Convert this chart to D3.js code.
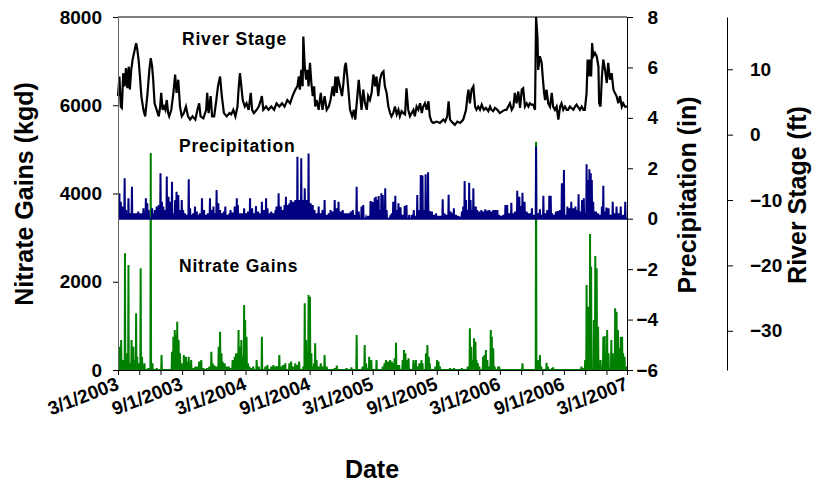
<!DOCTYPE html>
<html><head><meta charset="utf-8">
<script src="https://cdn.jsdelivr.net/npm/d3@7"></script>
<style>
body{margin:0;background:#fff}
svg{display:block}
text{font-family:Arial,"Liberation Sans",sans-serif;font-weight:bold;fill:#000}
</style>
</head><body>
<svg id="chart" width="814" height="482"></svg>
<script>
// ---------- data (day offsets counted from 3/1/2003) ----------
const startDate = "3/1/2003", endDate = "3/1/2007";
const xLabelDates = ["3/1/2003","9/1/2003","3/1/2004","9/1/2004","3/1/2005","9/1/2005","3/1/2006","9/1/2006","3/1/2007"];
const nitrateTicks = [0,2000,4000,6000,8000];
const precipTicks = [-6,-4,-2,0,2,4,6,8];
const stageTicks = [-30,-20,-10,0,10];

// River stage (ft): [day, value]
const riverStage = [[0,5.9],[4,8.9],[8,4.3],[11,4.1],[15,9.4],[19,7.4],[23,10.2],[27,7.1],[31,10.4],[34,6.9],[38,9.9],[42,11.5],[46,12.5],[52,14.0],[55,13.2],[59,11.5],[63,8.9],[67,5.9],[73,3.8],[78,2.8],[84,5.9],[90,9.9],[94,11.7],[98,10.4],[101,8.4],[105,4.8],[111,3.8],[117,2.8],[121,4.3],[124,6.4],[128,3.8],[132,4.3],[136,3.8],[140,5.3],[144,3.3],[147,2.8],[153,3.8],[159,6.4],[164,9.2],[168,6.4],[173,8.4],[178,4.3],[183,2.8],[189,3.3],[195,4.3],[201,2.8],[207,2.3],[214,2.8],[222,2.3],[228,3.8],[233,4.8],[237,2.8],[245,2.5],[253,3.8],[256,6.4],[260,3.3],[266,5.9],[270,2.8],[276,2.8],[281,4.8],[287,7.4],[293,8.9],[298,5.9],[304,3.3],[312,2.8],[320,3.3],[325,3.1],[331,3.8],[337,2.8],[343,4.3],[346,6.9],[350,9.4],[354,7.4],[358,5.3],[364,4.3],[369,4.8],[375,3.8],[381,6.4],[385,3.8],[390,3.3],[398,3.8],[404,4.3],[410,5.3],[413,5.9],[417,3.8],[425,4.3],[432,3.8],[440,4.3],[448,3.8],[455,4.8],[463,4.3],[471,4.8],[478,4.3],[486,5.3],[494,4.8],[501,5.9],[509,6.9],[515,7.4],[519,8.9],[522,6.9],[526,9.9],[530,7.4],[532,15.0],[536,10.4],[540,8.4],[543,9.9],[547,7.4],[551,11.0],[555,7.9],[559,5.9],[563,7.4],[566,4.3],[570,5.3],[576,3.8],[582,6.4],[587,3.8],[593,5.9],[599,3.8],[605,4.3],[610,5.3],[616,7.4],[620,5.9],[624,8.9],[628,6.4],[631,8.9],[637,7.4],[643,5.9],[647,7.9],[651,10.4],[654,11.0],[658,8.9],[662,6.4],[666,3.8],[672,2.8],[677,3.8],[681,2.3],[687,5.9],[691,8.4],[699,3.8],[704,6.9],[709,4.8],[714,3.8],[718,5.9],[723,5.3],[728,6.4],[733,9.2],[738,7.4],[742,8.9],[747,5.9],[752,8.4],[757,9.4],[762,9.7],[766,7.4],[771,6.4],[776,4.3],[781,3.3],[785,2.8],[790,3.3],[795,4.3],[800,3.1],[805,3.8],[809,2.8],[814,3.6],[819,3.3],[824,3.1],[828,7.1],[833,3.8],[838,2.8],[843,3.3],[848,3.8],[852,2.8],[857,4.3],[862,3.8],[867,4.8],[872,3.3],[876,4.3],[881,4.8],[886,3.8],[891,5.1],[895,2.8],[900,2.0],[905,1.8],[915,2.0],[924,1.8],[934,2.3],[939,2.0],[945,2.8],[949,5.1],[953,2.3],[961,1.8],[967,1.5],[974,2.0],[982,1.8],[991,2.3],[999,3.8],[1003,5.9],[1006,6.9],[1010,4.8],[1015,6.9],[1020,7.4],[1025,4.3],[1029,3.8],[1034,4.3],[1039,3.8],[1044,4.6],[1050,3.8],[1056,4.1],[1063,3.6],[1068,4.3],[1072,3.8],[1077,3.6],[1082,4.1],[1089,3.8],[1096,3.3],[1104,3.6],[1111,3.8],[1115,3.8],[1120,4.3],[1125,4.8],[1130,3.8],[1135,4.3],[1139,6.4],[1144,4.8],[1149,6.6],[1154,4.1],[1159,6.9],[1163,7.1],[1168,4.3],[1173,4.8],[1178,4.3],[1182,4.8],[1187,4.6],[1192,4.6],[1197,3.8],[1200,18.0],[1204,15.0],[1206,9.9],[1211,12.0],[1216,11.0],[1219,8.9],[1223,6.4],[1226,5.3],[1230,6.9],[1235,4.8],[1240,4.3],[1245,6.4],[1249,4.3],[1254,3.8],[1259,4.3],[1264,2.3],[1269,4.3],[1273,4.8],[1278,3.8],[1283,4.3],[1288,3.8],[1292,3.8],[1297,4.3],[1307,3.8],[1312,4.3],[1316,4.6],[1326,3.8],[1331,4.3],[1336,3.8],[1340,3.8],[1345,6.4],[1348,11.5],[1351,8.9],[1355,11.5],[1358,8.9],[1361,14.0],[1364,12.0],[1369,12.5],[1374,12.0],[1379,10.4],[1381,4.8],[1385,4.3],[1389,8.9],[1393,11.5],[1398,9.9],[1403,7.9],[1407,11.0],[1412,8.4],[1417,9.4],[1422,6.9],[1426,6.4],[1431,5.9],[1436,4.8],[1441,5.9],[1446,4.3],[1450,4.8],[1455,4.3],[1461,4.3]];

// Precipitation (in): rain days [day, value]; all other days are 0
const precipitation = [[4,1.01],[8,0.67],[13,0.48],[19,1.60],[23,0.34],[30,0.81],[34,0.21],[40,1.27],[46,0.21],[52,0.21],[58,0.28],[63,0.21],[69,0.21],[73,0.41],[76,0.21],[80,0.81],[84,0.61],[88,0.34],[98,0.41],[101,0.21],[106,0.34],[111,0.48],[117,0.54],[122,1.80],[126,0.67],[130,0.48],[135,0.34],[140,1.67],[145,0.87],[149,0.67],[155,1.47],[159,0.21],[164,0.74],[168,1.07],[173,0.94],[178,0.34],[183,0.74],[187,0.34],[192,0.21],[197,0.15],[203,1.56],[207,0.41],[211,0.15],[216,0.21],[221,0.48],[226,0.28],[231,0.15],[235,0.21],[241,0.81],[247,0.34],[253,0.15],[258,0.21],[264,0.81],[269,0.34],[274,0.48],[278,0.21],[283,1.14],[288,0.61],[293,0.34],[298,0.21],[304,0.28],[308,0.48],[314,0.15],[320,0.21],[323,0.34],[329,0.24],[335,0.48],[341,0.81],[344,0.54],[350,0.21],[356,0.21],[362,0.41],[367,0.21],[373,0.28],[379,0.81],[385,0.41],[390,0.21],[396,0.50],[402,0.28],[408,0.21],[413,0.67],[419,0.34],[425,0.81],[429,0.41],[434,0.21],[440,0.28],[446,0.21],[452,0.34],[455,0.48],[461,1.01],[467,0.48],[473,0.34],[478,0.54],[482,0.87],[487,0.54],[492,0.61],[496,0.74],[501,0.67],[505,0.67],[509,0.74],[515,2.46],[520,0.74],[526,2.40],[532,0.74],[536,1.21],[541,0.74],[547,2.59],[553,0.61],[559,0.54],[564,0.34],[570,0.21],[576,0.48],[582,0.21],[587,0.34],[593,0.74],[599,0.15],[605,0.21],[610,0.34],[616,0.28],[622,0.74],[628,0.41],[633,0.67],[639,0.28],[645,0.34],[651,0.21],[656,0.21],[662,0.21],[668,0.28],[674,0.34],[679,0.15],[685,1.27],[691,0.28],[699,0.48],[704,0.54],[712,0.05],[718,0.11],[725,0.70],[731,0.67],[737,0.83],[740,0.87],[744,0.74],[748,0.90],[752,0.34],[756,1.01],[760,0.94],[763,0.34],[767,1.21],[771,0.34],[781,0.05],[786,0.21],[790,0.67],[796,0.91],[800,0.34],[805,0.61],[811,0.45],[817,0.15],[823,0.50],[828,0.54],[836,0.15],[844,0.15],[849,0.34],[853,0.11],[859,0.94],[865,0.34],[869,1.73],[874,1.71],[878,0.34],[883,1.76],[890,1.84],[895,0.30],[901,0.28],[907,0.15],[913,0.21],[920,0.11],[926,0.11],[932,0.77],[937,0.21],[943,0.15],[949,0.95],[955,0.28],[960,0.21],[964,0.41],[970,0.15],[976,0.11],[981,0.08],[987,0.28],[991,0.48],[995,1.50],[999,0.74],[1003,0.34],[1008,1.43],[1012,0.74],[1016,0.34],[1020,1.21],[1024,0.48],[1027,0.48],[1031,0.34],[1037,0.28],[1043,0.34],[1048,0.28],[1054,0.37],[1060,0.32],[1066,0.34],[1071,0.28],[1077,0.34],[1083,0.34],[1089,0.34],[1094,0.15],[1100,0.11],[1106,0.15],[1112,0.54],[1117,0.54],[1123,0.21],[1129,0.63],[1135,0.21],[1140,0.28],[1146,1.11],[1152,0.87],[1158,0.50],[1161,1.03],[1167,0.67],[1173,0.28],[1179,0.21],[1184,0.21],[1188,0.41],[1194,0.15],[1200,2.86],[1205,0.21],[1211,0.37],[1217,0.15],[1221,0.91],[1226,0.21],[1232,0.34],[1238,0.91],[1242,0.91],[1246,0.21],[1251,0.15],[1257,0.28],[1263,0.30],[1269,0.34],[1274,1.41],[1280,1.93],[1286,0.15],[1290,0.48],[1295,0.41],[1301,0.67],[1307,0.41],[1313,0.48],[1318,0.34],[1322,0.97],[1328,0.28],[1332,0.74],[1337,0.81],[1341,0.21],[1345,2.16],[1349,1.54],[1353,1.96],[1357,1.80],[1360,1.54],[1364,0.67],[1368,0.28],[1372,0.28],[1378,0.21],[1383,0.15],[1389,0.48],[1393,1.31],[1399,0.28],[1402,0.44],[1408,0.41],[1414,0.15],[1420,0.67],[1425,0.21],[1431,0.48],[1437,0.21],[1443,0.48],[1450,0.15],[1456,0.67]];

// Nitrate gains (kgd): nonzero days [day, value]; all other days are 0
const nitrateGains = [[4,529],[9,680],[13,227],[20,2644],[25,378],[30,2379],[34,151],[39,680],[44,529],[49,227],[52,1284],[55,302],[61,151],[65,2304],[69,302],[73,76],[76,151],[87,38],[94,4918],[99,151],[111,38],[125,340],[155,415],[159,755],[163,906],[166,793],[170,1095],[174,680],[178,378],[182,151],[186,76],[189,340],[195,302],[199,189],[203,302],[207,76],[210,227],[216,38],[222,76],[228,76],[233,189],[239,227],[245,38],[256,38],[262,76],[268,415],[272,151],[277,98],[283,76],[289,529],[293,868],[297,378],[300,189],[306,151],[312,76],[318,76],[323,38],[329,227],[335,302],[339,378],[342,378],[346,906],[350,529],[354,680],[358,302],[362,1473],[365,1133],[369,755],[373,151],[377,76],[383,38],[388,76],[398,227],[404,76],[413,755],[423,76],[429,113],[440,76],[446,113],[452,76],[457,91],[463,340],[469,76],[474,113],[480,151],[492,151],[497,189],[503,76],[509,151],[515,113],[520,189],[532,76],[536,1511],[540,680],[543,378],[547,1700],[551,1662],[555,378],[559,76],[563,151],[566,604],[570,227],[576,76],[582,151],[587,76],[593,340],[599,76],[622,38],[628,98],[656,38],[670,60],[685,793],[702,76],[708,566],[712,151],[717,38],[721,302],[727,227],[742,227],[760,76],[765,151],[769,227],[775,189],[781,227],[786,189],[790,151],[794,264],[798,619],[802,113],[807,113],[817,227],[821,453],[825,378],[828,227],[834,264],[848,227],[851,151],[855,227],[859,76],[865,151],[871,227],[874,151],[884,378],[888,566],[892,302],[895,151],[911,76],[916,227],[920,189],[924,76],[953,38],[964,38],[987,38],[1004,76],[1010,944],[1014,529],[1018,227],[1022,717],[1026,642],[1029,227],[1033,151],[1037,76],[1048,302],[1052,340],[1056,453],[1060,227],[1066,76],[1070,906],[1073,755],[1077,491],[1081,76],[1091,76],[1094,76],[1161,151],[1200,5173],[1207,227],[1211,340],[1215,76],[1230,166],[1234,76],[1246,38],[1249,60],[1330,76],[1334,38],[1341,227],[1345,1926],[1349,1435],[1355,3082],[1358,2341],[1366,1133],[1370,2583],[1374,2304],[1378,982],[1385,227],[1389,76],[1393,755],[1397,770],[1404,906],[1408,378],[1416,680],[1420,378],[1427,1398],[1431,1322],[1435,906],[1439,491],[1443,755],[1447,755],[1450,378],[1454,302],[1458,76]];

// ---------- chart ----------
const parse = d3.timeParse("%m/%d/%Y");
const fmt = d3.timeFormat("%-m/%-d/%Y");
const t0 = parse(startDate), t1 = parse(endDate);
const nDays = d3.timeDay.count(t0, t1);
const dayDate = d => d3.timeDay.offset(t0, d);

const L = 118, R = 627, T = 17, B = 370;
const x = d3.scaleTime().domain([t0, t1]).range([L, R]);
const yN = d3.scaleLinear().domain([0, 8000]).range([B, T]);
const yP = d3.scaleLinear().domain([-6, 8]).range([B, T]);
const yS = d3.scaleLinear().domain([-36, 18]).range([B, T]);

const svg = d3.select("#chart");

function daily(pairs) {
  const m = new Map(pairs);
  return d3.range(0, nDays + 1).map(d => [d, m.has(d) ? m.get(d) : 0]);
}

// series
svg.append("path")
  .attr("d", d3.line().x(d => x(dayDate(d[0]))).y(d => yN(d[1]))(daily(nitrateGains)))
  .attr("fill", "none").attr("stroke", "#008000").attr("stroke-width", 2);

svg.append("path")
  .attr("d", d3.line().x(d => x(dayDate(d[0]))).y(d => yP(d[1]))(daily(precipitation)))
  .attr("fill", "none").attr("stroke", "#000080").attr("stroke-width", 2);

svg.append("path")
  .attr("d", d3.line().x(d => x(dayDate(d[0]))).y(d => yS(d[1]))(riverStage))
  .attr("fill", "none").attr("stroke", "#000").attr("stroke-width", 2.2);

// top border
svg.append("line").attr("x1", L).attr("x2", R).attr("y1", T).attr("y2", T).attr("stroke", "#000").attr("stroke-width", 1);

// left axis
const gL = svg.append("g").attr("transform", `translate(${L},0)`)
  .call(d3.axisLeft(yN).tickValues(nitrateTicks).tickSize(5).tickSizeOuter(0).tickPadding(11).tickFormat(d3.format("d")));
gL.select(".domain").attr("stroke", "#666");
gL.selectAll("text").style("font-size", "19px");

// precipitation axis (right of plot)
const gP = svg.append("g").attr("transform", `translate(${R},0)`)
  .call(d3.axisRight(yP).tickValues(precipTicks).tickSize(6).tickSizeOuter(0).tickFormat(d3.format("d")));
gP.selectAll("text").style("font-size", "19px").attr("text-anchor", "end").attr("x", 31);

// river stage axis
const gS = svg.append("g").attr("transform", "translate(727,0)")
  .call(d3.axisRight(yS).tickValues(stageTicks).tickSize(6).tickSizeOuter(0).tickPadding(17).tickFormat(d3.format("d")));
gS.selectAll("text").style("font-size", "19px");

// bottom axis
const gB = svg.append("g").attr("transform", `translate(0,${B})`)
  .call(d3.axisBottom(x).ticks(d3.timeMonth.every(2)).tickSize(5).tickSizeOuter(0).tickFormat(""));
gB.selectAll(".tick line").attr("stroke", "#000");
svg.selectAll(".domain").filter(function(){ return this.parentNode !== gL.node(); }).attr("stroke", "#000");

// x tick labels
svg.append("g").selectAll("text").data(xLabelDates.map(parse)).join("text")
  .attr("transform", d => `translate(${x(d) + 2},389) rotate(-21)`)
  .attr("text-anchor", "end")
  .style("font-size", "19px")
  .text(d => fmt(d));

// axis titles
svg.append("text").attr("transform", "translate(33,194) rotate(-90)").attr("text-anchor", "middle")
  .style("font-size", "25px").text("Nitrate Gains (kgd)");
svg.append("text").attr("transform", "translate(696,195) rotate(-90)").attr("text-anchor", "middle")
  .style("font-size", "25px").text("Precipitation (in)");
svg.append("text").attr("transform", "translate(806,195) rotate(-90)").attr("text-anchor", "middle")
  .style("font-size", "25px").text("River Stage (ft)");
svg.append("text").attr("x", 372).attr("y", 478).attr("text-anchor", "middle")
  .style("font-size", "25px").text("Date");

// series labels
const seriesLabels = [["River Stage", 182, 45], ["Precipitation", 179, 152], ["Nitrate Gains", 179, 272]];
svg.append("g").selectAll("text").data(seriesLabels).join("text")
  .attr("x", d => d[1]).attr("y", d => d[2])
  .style("font-size", "17.5px").style("letter-spacing", "0.8px")
  .text(d => d[0]);
</script>
</body></html>
